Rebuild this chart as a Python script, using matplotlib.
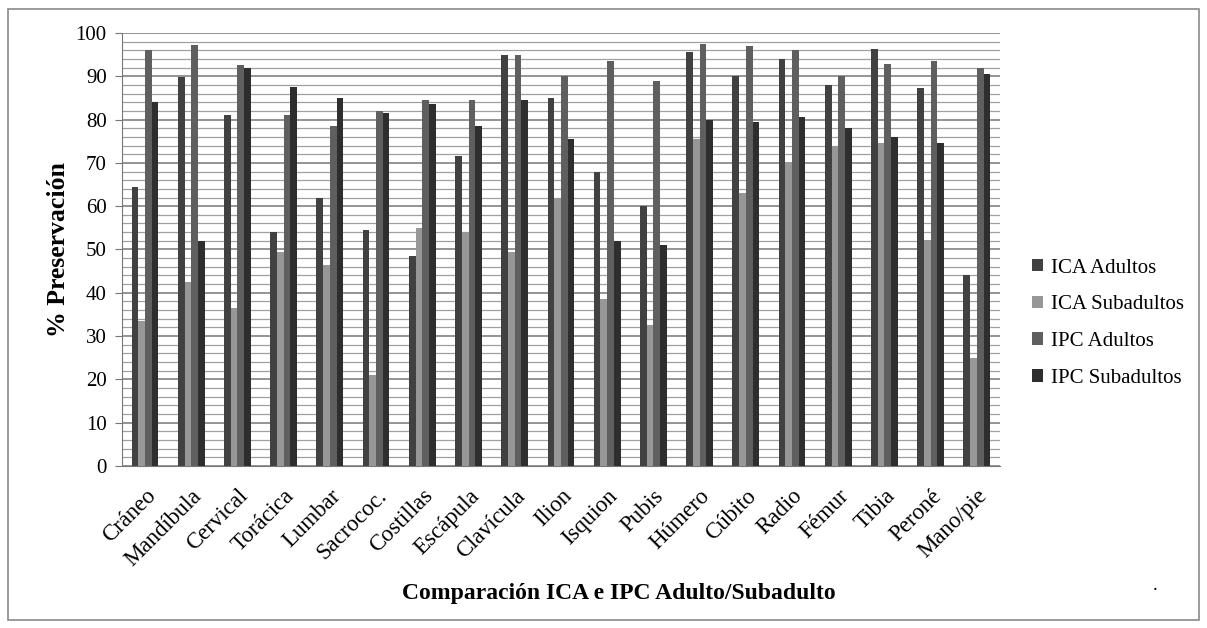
import numpy as np
import matplotlib.pyplot as plt
from matplotlib.patches import Rectangle

# huesos
categorias = ['Cráneo', 'Mandíbula', 'Cervical', 'Torácica', 'Lumbar', 'Sacrococ.',
              'Costillas', 'Escápula', 'Clavícula', 'Ilion', 'Isquion', 'Pubis',
              'Húmero', 'Cúbito', 'Radio', 'Fémur', 'Tibia', 'Peroné', 'Mano/pie']

ica_adultos = [64.5, 89.8, 81, 54, 62, 54.5, 48.5, 71.5, 95, 85, 68, 60,
               95.5, 90, 94, 88, 96.3, 87.2, 44.2]
ica_subadultos = [33.5, 42.5, 36.5, 49.5, 46.5, 21, 55, 54, 49.5, 62, 38.5, 32.5,
                  75.5, 63, 70, 74, 74.5, 52.3, 25]
ipc_adultos = [96, 97.3, 92.5, 81, 78.5, 82, 84.5, 84.5, 95, 90, 93.5, 89,
               97.5, 97, 96, 90, 92.8, 93.5, 92]
ipc_subadultos = [84, 52, 92, 87.5, 85, 81.5, 83.5, 78.5, 84.5, 75.5, 52, 51,
                  80, 79.5, 80.5, 78, 76, 74.5, 90.5]

series = [('ICA Adultos', ica_adultos, '#414141'),
          ('ICA Subadultos', ica_subadultos, '#979797'),
          ('IPC Adultos', ipc_adultos, '#5f5f5f'),
          ('IPC Subadultos', ipc_subadultos, '#2e2e2e')]

plt.rcParams['font.family'] = ['Liberation Serif', 'DejaVu Serif']

fig = plt.figure(figsize=(12.07, 6.28), dpi=100)
ax = fig.add_axes([0.101, 0.258, 0.7275, 0.6895])

# marco exterior
fig.patches.append(Rectangle((0.007, 0.013), 0.986, 0.972, transform=fig.transFigure,
                             fill=False, edgecolor='#8a8a8a', linewidth=1.2))

x = np.arange(len(categorias))
w = 0.145
for i, (nombre, vals, col) in enumerate(series):
    ax.bar(x + (i - 1.5) * w, vals, w, color=col, label=nombre, zorder=3)

ax.set_xlim(-0.5, len(categorias) - 0.5)
ax.set_ylim(0, 100)
ax.set_yticks(np.arange(0, 101, 10))
ax.set_yticks(np.arange(0, 101, 2), minor=True)
ax.grid(axis='y', which='major', color='#777777', linewidth=1.1, zorder=0)
ax.grid(axis='y', which='minor', color='#a0a0a0', linewidth=0.9, zorder=0)
ax.tick_params(axis='y', which='major', labelsize=15, length=5, color='#777777', pad=6)
ax.tick_params(axis='y', which='minor', length=0)
ax.tick_params(axis='x', length=0, pad=14)

ax.set_xticks(x)
ax.set_xticklabels(categorias, rotation=45, ha='right', rotation_mode='anchor', fontsize=16.5)

for s in ['top', 'right']:
    ax.spines[s].set_visible(False)
ax.spines['left'].set_color('#777777')
ax.spines['bottom'].set_color('#777777')

ax.set_ylabel('% Preservación', fontsize=18.5, fontweight='bold')
ax.yaxis.set_label_coords(-0.059, 0.5)
ax.set_xlabel('Comparación ICA e IPC Adulto/Subadulto', fontsize=17, fontweight='bold')
ax.xaxis.set_label_coords(0.566, -0.27)

ax.legend(loc='center left', bbox_to_anchor=(1.015, 0.33), frameon=False,
          fontsize=15, handlelength=0.55, handleheight=0.55, handletextpad=0.35,
          labelspacing=0.85)

fig.text(0.955, 0.06, '.', fontsize=14)

fig.savefig('out.png', dpi=100)
